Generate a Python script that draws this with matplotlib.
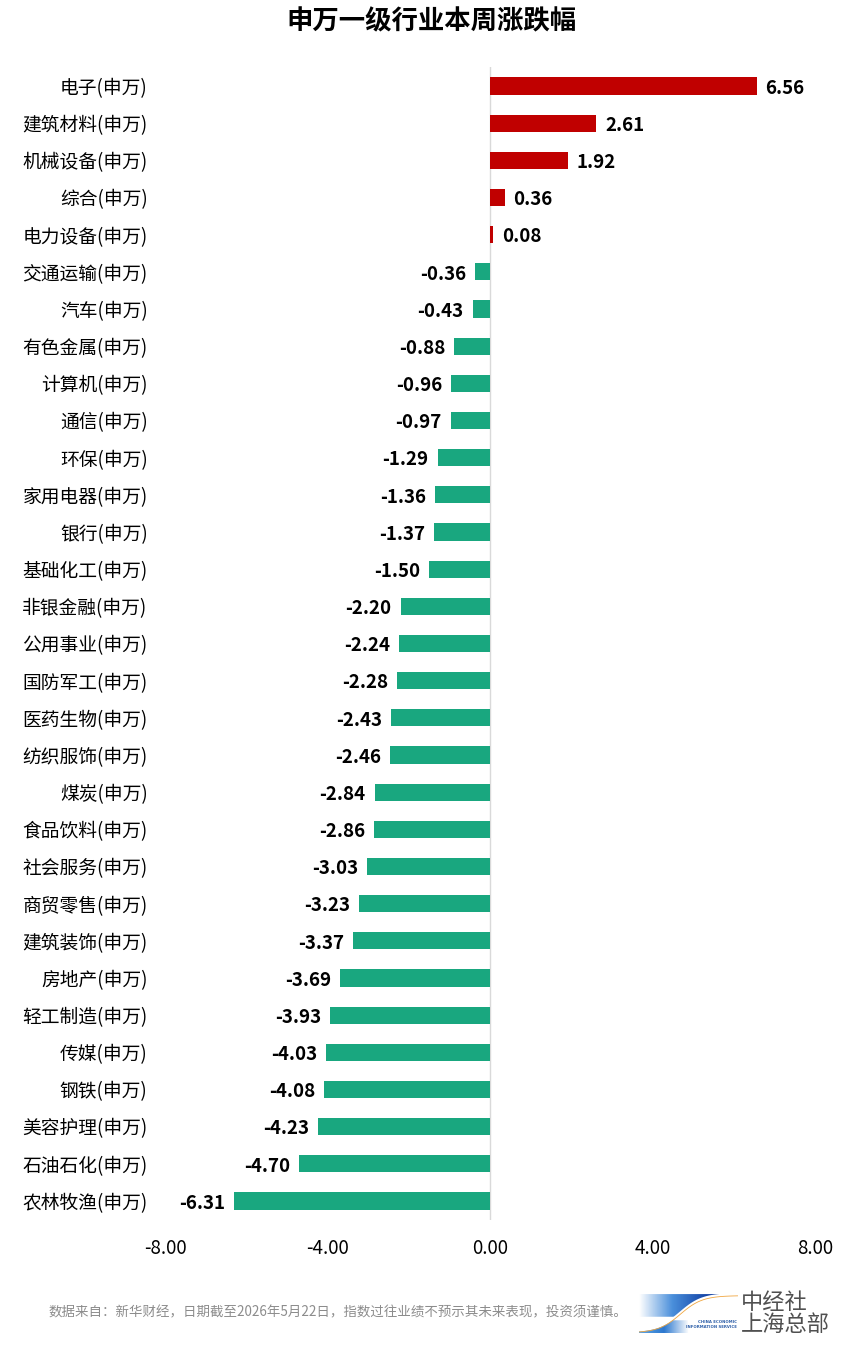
import numpy as np
import matplotlib.pyplot as plt
from matplotlib.colors import LinearSegmentedColormap
from matplotlib.patches import Polygon

plt.rcParams['font.family'] = ['Noto Sans CJK SC', 'DejaVu Sans']

categories = ["电子(申万)", "建筑材料(申万)", "机械设备(申万)", "综合(申万)", "电力设备(申万)",
              "交通运输(申万)", "汽车(申万)", "有色金属(申万)", "计算机(申万)", "通信(申万)",
              "环保(申万)", "家用电器(申万)", "银行(申万)", "基础化工(申万)", "非银金融(申万)",
              "公用事业(申万)", "国防军工(申万)", "医药生物(申万)", "纺织服饰(申万)", "煤炭(申万)",
              "食品饮料(申万)", "社会服务(申万)", "商贸零售(申万)", "建筑装饰(申万)", "房地产(申万)",
              "轻工制造(申万)", "传媒(申万)", "钢铁(申万)", "美容护理(申万)", "石油石化(申万)",
              "农林牧渔(申万)"]
values = [6.56, 2.61, 1.92, 0.36, 0.08,
          -0.36, -0.43, -0.88, -0.96, -0.97,
          -1.29, -1.36, -1.37, -1.50, -2.20,
          -2.24, -2.28, -2.43, -2.46, -2.84,
          -2.86, -3.03, -3.23, -3.37, -3.69,
          -3.93, -4.03, -4.08, -4.23, -4.70,
          -6.31]
xticks = [-8, -4, 0, 4, 8]

RED = "#C00000"
GREEN = "#19A77F"

fig = plt.figure(figsize=(8.62, 13.48), dpi=100)
ax = fig.add_axes([0.1914, 0.0953, 0.7541, 0.8547])

y = np.arange(len(categories))
colors = [RED if v >= 0 else GREEN for v in values]
ax.barh(y, values, height=0.46, color=colors, zorder=2)

for yi, v in zip(y, values):
    if v >= 0:
        ax.text(v + 0.22, yi + 0.06, f"{v:.2f}", ha="left", va="center",
                fontsize=13.5, fontweight="bold", color="black")
    else:
        ax.text(v - 0.22, yi + 0.06, f"{v:.2f}", ha="right", va="center",
                fontsize=13.5, fontweight="bold", color="black")

ax.set_ylim(len(categories) - 0.5, -0.5)
ax.set_xlim(-8, 8)
ax.set_yticks(y)
ax.set_yticklabels(categories, fontsize=13.5)
ax.set_xticks(xticks)
ax.set_xticklabels([f"{t:.2f}" for t in xticks], fontsize=13.5)
ax.tick_params(axis="both", length=0)
ax.tick_params(axis="x", pad=13)
ax.tick_params(axis="y", pad=12.5)
for s in ax.spines.values():
    s.set_visible(False)
ax.axvline(0, color="#D9D9D9", lw=1, zorder=1)

fig.text(0.5, 0.984, "申万一级行业本周涨跌幅", ha="center", va="center",
         fontsize=19, fontweight="bold")

fig.text(0.056, 0.0265, "数据来自：新华财经，日期截至2026年5月22日，指数过往业绩不预示其未来表现，投资须谨慎。",
         ha="left", va="center", fontsize=9.7, color="#8C8C8C")

# logo: swoosh + text
lax = fig.add_axes([0.741, 0.011, 0.115, 0.029])
xs = np.linspace(0, 1, 100)
curve = 0.05 + 0.95 / (1 + np.exp(-(xs - 0.42) * 9))
grad = np.linspace(0, 1, 200).reshape(1, -1)
cmap_up = LinearSegmentedColormap.from_list("up", ["#FFFFFF", "#4A8FDB", "#1546A8", "#0B2F86"])
cmap_lo = LinearSegmentedColormap.from_list("lo", ["#5EA6E6", "#2C78CF", "#FFFFFF"])
up_pts = [(x, max(c, 0.42)) for x, c in zip(xs, curve)] + [(1, 1), (0, 1)]
up = Polygon(up_pts, closed=True, transform=lax.transData, facecolor="none", edgecolor="none")
lax.add_patch(up)
im = lax.imshow(grad, extent=[0, 1, 0, 1], aspect="auto", cmap=cmap_up)
im.set_clip_path(up)
lo_pts = [(x, min(c, 0.33)) for x, c in zip(xs, curve) if x < 0.5] + [(0.5, 0), (0, 0)]
lo = Polygon(lo_pts, closed=True, transform=lax.transData, facecolor="none", edgecolor="none")
lax.add_patch(lo)
im2 = lax.imshow(grad, extent=[0, 0.5, 0, 1], aspect="auto", cmap=cmap_lo)
im2.set_clip_path(lo)
lax.plot(xs, curve, color="white", lw=1.6)
lax.plot(xs, curve - 0.04, color="#F0A640", lw=0.6)
lax.text(0.99, 0.22, "CHINA ECONOMIC\nINFORMATION SERVICE", fontsize=2.8, color="#2E5FA8",
         ha="right", va="center", family="DejaVu Sans", fontweight="bold", linespacing=1.1)
lax.set_xlim(0, 1)
lax.set_ylim(0, 1)
lax.axis("off")

fig.text(0.860, 0.0335, "中经社", ha="left", va="center", fontsize=16, color="#505050",
         fontweight="medium")
fig.text(0.860, 0.0175, "上海总部", ha="left", va="center", fontsize=16, color="#505050",
         fontweight="medium")

fig.savefig("out.png", dpi=100, facecolor="white")
